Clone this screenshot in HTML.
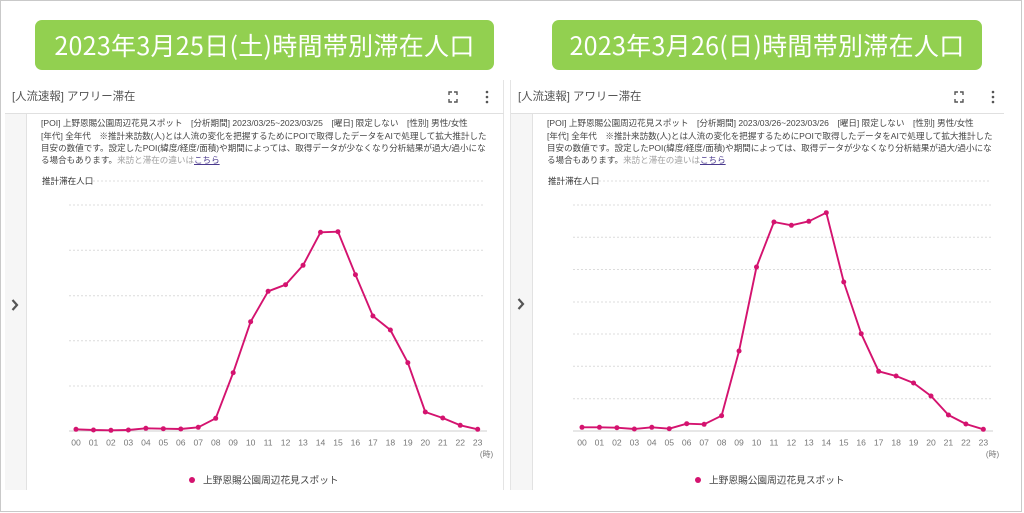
<!DOCTYPE html>
<html><head><meta charset="utf-8">
<style>
*{margin:0;padding:0;box-sizing:border-box}
body{width:1024px;height:513px;background:#fff;position:relative;overflow:hidden;font-family:"Liberation Sans","Noto Sans CJK JP",sans-serif}
.abs{position:absolute}
.frame{left:0;top:0;width:1022px;height:512px;border:1.5px solid #c9c9c9}
.banner{height:50px;top:20px;background:#92d050;border-radius:7px;color:#fff;font-family:"Noto Sans CJK JP","Liberation Sans",sans-serif;font-size:25px;line-height:50px;text-align:center;white-space:nowrap;letter-spacing:0.3px}
.hdr{font-size:11.4px;color:#555;top:89px;white-space:nowrap;line-height:16px}
.side{background:#f6f6f6;border-right:1px solid #e2e2e2}
.txt{font-size:8.55px;line-height:12px;color:#444;white-space:nowrap}
.gray{color:#a0a0a0}
.lnk{color:#4b3a8e;text-decoration:underline}
</style></head><body>
<div class="abs frame"></div>

<div class="abs banner" style="left:35px;width:459px">2023年3月25日(土)時間帯別滞在人口</div>
<div class="abs banner" style="left:552px;width:430px">2023年3月26(日)時間帯別滞在人口</div>

<!-- cards structure -->
<div class="abs" style="left:503px;top:80px;width:1px;height:410px;background:#e4e4e4"></div>
<div class="abs" style="left:510px;top:80px;width:1px;height:410px;background:#e4e4e4"></div>
<div class="abs" style="left:5px;top:113px;width:499px;height:1px;background:#e0e0e0"></div>
<div class="abs" style="left:511px;top:113px;width:493px;height:1px;background:#e0e0e0"></div>
<div class="abs side" style="left:5px;top:114px;width:22px;height:376px"></div>
<div class="abs side" style="left:511px;top:114px;width:22px;height:376px"></div>

<div class="abs hdr" style="left:12px">[人流速報] アワリー滞在</div>
<div class="abs hdr" style="left:518px">[人流速報] アワリー滞在</div>

<div class="abs txt" style="left:41px;top:117px">[POI] 上野恩賜公園周辺花見スポット　[分析期間] 2023/03/25~2023/03/25　[曜日] 限定しない　[性別] 男性/女性</div>
<div class="abs txt" style="left:41px;top:129.5px">[年代] 全年代　※推計来訪数(人)とは人流の変化を把握するためにPOIで取得したデータをAIで処理して拡大推計した</div>
<div class="abs txt" style="left:41px;top:142px">目安の数値です。設定したPOI(緯度/経度/面積)や期間によっては、取得データが少なくなり分析結果が過大/過小にな</div>
<div class="abs txt" style="left:41px;top:154px">る場合もあります。<span class="gray">来訪と滞在の違いは</span><span class="lnk">こちら</span></div>
<div class="abs txt" style="left:42px;top:175px;color:#333">推計滞在人口</div>

<div class="abs txt" style="left:547px;top:117px">[POI] 上野恩賜公園周辺花見スポット　[分析期間] 2023/03/26~2023/03/26　[曜日] 限定しない　[性別] 男性/女性</div>
<div class="abs txt" style="left:547px;top:129.5px">[年代] 全年代　※推計来訪数(人)とは人流の変化を把握するためにPOIで取得したデータをAIで処理して拡大推計した</div>
<div class="abs txt" style="left:547px;top:142px">目安の数値です。設定したPOI(緯度/経度/面積)や期間によっては、取得データが少なくなり分析結果が過大/過小にな</div>
<div class="abs txt" style="left:547px;top:154px">る場合もあります。<span class="gray">来訪と滞在の違いは</span><span class="lnk">こちら</span></div>
<div class="abs txt" style="left:548px;top:175px;color:#333">推計滞在人口</div>

<svg class="abs" style="left:0;top:0" width="1024" height="513" viewBox="0 0 1024 513">
  <!-- icons -->
  <g stroke="#555" stroke-width="1.4" fill="none">
    <path d="M449,95 v-3 h3 M454,92 h3 v3 M457,99 v3 h-3 M452,102 h-3 v-3"/>
    <path d="M955,95 v-3 h3 M960,92 h3 v3 M963,99 v3 h-3 M958,102 h-3 v-3"/>
    <polyline points="12.5,300 17,305 12.5,310" stroke-width="2.2"/>
    <polyline points="518.5,299 523,304 518.5,309" stroke-width="2.2"/>
  </g>
  <g fill="#555">
    <circle cx="487" cy="92" r="1.3"/><circle cx="487" cy="97" r="1.3"/><circle cx="487" cy="102" r="1.3"/>
    <circle cx="993" cy="92" r="1.3"/><circle cx="993" cy="97" r="1.3"/><circle cx="993" cy="102" r="1.3"/>
  </g>

  <!-- LEFT chart grid -->
  <g stroke="#dcdcdc" stroke-width="1" stroke-dasharray="2,2">
    <line x1="93" y1="181" x2="485" y2="181"/>
    <line x1="69" y1="205" x2="485" y2="205"/>
    <line x1="69" y1="250.3" x2="485" y2="250.3"/>
    <line x1="69" y1="295.7" x2="485" y2="295.7"/>
    <line x1="69" y1="340.7" x2="485" y2="340.7"/>
    <line x1="69" y1="386" x2="485" y2="386"/>
  </g>
  <line x1="69" y1="431" x2="487" y2="431" stroke="#cfcfcf" stroke-width="1"/>

  <!-- RIGHT chart grid -->
  <g stroke="#dcdcdc" stroke-width="1" stroke-dasharray="2,2">
    <line x1="599" y1="181" x2="991" y2="181"/>
    <line x1="573" y1="205" x2="991" y2="205"/>
    <line x1="573" y1="237.3" x2="991" y2="237.3"/>
    <line x1="573" y1="269.5" x2="991" y2="269.5"/>
    <line x1="573" y1="302" x2="991" y2="302"/>
    <line x1="573" y1="334" x2="991" y2="334"/>
    <line x1="573" y1="366.3" x2="991" y2="366.3"/>
    <line x1="573" y1="398.7" x2="991" y2="398.7"/>
  </g>
  <line x1="573" y1="431" x2="993" y2="431" stroke="#cfcfcf" stroke-width="1"/>

  <!-- series -->
  <g fill="none" stroke="#d4136f" stroke-width="1.9" stroke-linejoin="round">
    <polyline points="76,429.3 93.47,430 110.93,430.3 128.4,430 145.86,428.3 163.33,428.7 180.79,429 198.26,427.3 215.72,418.3 233.19,372.7 250.65,321.7 268.12,291.3 285.58,284.7 303.05,265.3 320.51,232.3 337.98,231.7 355.44,274.7 372.91,316 390.37,330 407.84,362.7 425.3,412 442.77,418 460.23,425.3 477.7,429.3"/>
    <polyline points="582,427.3 599.45,427.3 616.9,427.7 634.35,429 651.8,427.3 669.25,428.7 686.7,423.7 704.15,424.3 721.6,415.7 739.05,351 756.5,267 773.95,222 791.4,225.3 808.85,221.3 826.3,212.7 843.75,282 861.2,333.7 878.65,371.3 896.1,376 913.55,383 931,396 948.45,415 965.9,424 983.35,429.3"/>
  </g>
  <g fill="#d4136f">
    <circle cx="76" cy="429.3" r="2.5"/><circle cx="93.47" cy="430" r="2.5"/><circle cx="110.93" cy="430.3" r="2.5"/><circle cx="128.4" cy="430" r="2.5"/><circle cx="145.86" cy="428.3" r="2.5"/><circle cx="163.33" cy="428.7" r="2.5"/><circle cx="180.79" cy="429" r="2.5"/><circle cx="198.26" cy="427.3" r="2.5"/><circle cx="215.72" cy="418.3" r="2.5"/><circle cx="233.19" cy="372.7" r="2.5"/><circle cx="250.65" cy="321.7" r="2.5"/><circle cx="268.12" cy="291.3" r="2.5"/><circle cx="285.58" cy="284.7" r="2.5"/><circle cx="303.05" cy="265.3" r="2.5"/><circle cx="320.51" cy="232.3" r="2.5"/><circle cx="337.98" cy="231.7" r="2.5"/><circle cx="355.44" cy="274.7" r="2.5"/><circle cx="372.91" cy="316" r="2.5"/><circle cx="390.37" cy="330" r="2.5"/><circle cx="407.84" cy="362.7" r="2.5"/><circle cx="425.3" cy="412" r="2.5"/><circle cx="442.77" cy="418" r="2.5"/><circle cx="460.23" cy="425.3" r="2.5"/><circle cx="477.7" cy="429.3" r="2.5"/>
    <circle cx="582" cy="427.3" r="2.5"/><circle cx="599.45" cy="427.3" r="2.5"/><circle cx="616.9" cy="427.7" r="2.5"/><circle cx="634.35" cy="429" r="2.5"/><circle cx="651.8" cy="427.3" r="2.5"/><circle cx="669.25" cy="428.7" r="2.5"/><circle cx="686.7" cy="423.7" r="2.5"/><circle cx="704.15" cy="424.3" r="2.5"/><circle cx="721.6" cy="415.7" r="2.5"/><circle cx="739.05" cy="351" r="2.5"/><circle cx="756.5" cy="267" r="2.5"/><circle cx="773.95" cy="222" r="2.5"/><circle cx="791.4" cy="225.3" r="2.5"/><circle cx="808.85" cy="221.3" r="2.5"/><circle cx="826.3" cy="212.7" r="2.5"/><circle cx="843.75" cy="282" r="2.5"/><circle cx="861.2" cy="333.7" r="2.5"/><circle cx="878.65" cy="371.3" r="2.5"/><circle cx="896.1" cy="376" r="2.5"/><circle cx="913.55" cy="383" r="2.5"/><circle cx="931" cy="396" r="2.5"/><circle cx="948.45" cy="415" r="2.5"/><circle cx="965.9" cy="424" r="2.5"/><circle cx="983.35" cy="429.3" r="2.5"/>
  </g>

  <!-- x tick labels -->
  <g font-family="Liberation Sans, sans-serif" font-size="8.6" fill="#777" text-anchor="middle">
    <text x="76" y="445.5">00</text><text x="93.47" y="445.5">01</text><text x="110.93" y="445.5">02</text><text x="128.4" y="445.5">03</text><text x="145.86" y="445.5">04</text><text x="163.33" y="445.5">05</text><text x="180.79" y="445.5">06</text><text x="198.26" y="445.5">07</text><text x="215.72" y="445.5">08</text><text x="233.19" y="445.5">09</text><text x="250.65" y="445.5">10</text><text x="268.12" y="445.5">11</text><text x="285.58" y="445.5">12</text><text x="303.05" y="445.5">13</text><text x="320.51" y="445.5">14</text><text x="337.98" y="445.5">15</text><text x="355.44" y="445.5">16</text><text x="372.91" y="445.5">17</text><text x="390.37" y="445.5">18</text><text x="407.84" y="445.5">19</text><text x="425.3" y="445.5">20</text><text x="442.77" y="445.5">21</text><text x="460.23" y="445.5">22</text><text x="477.7" y="445.5">23</text>
    <text x="582" y="445.5">00</text><text x="599.45" y="445.5">01</text><text x="616.9" y="445.5">02</text><text x="634.35" y="445.5">03</text><text x="651.8" y="445.5">04</text><text x="669.25" y="445.5">05</text><text x="686.7" y="445.5">06</text><text x="704.15" y="445.5">07</text><text x="721.6" y="445.5">08</text><text x="739.05" y="445.5">09</text><text x="756.5" y="445.5">10</text><text x="773.95" y="445.5">11</text><text x="791.4" y="445.5">12</text><text x="808.85" y="445.5">13</text><text x="826.3" y="445.5">14</text><text x="843.75" y="445.5">15</text><text x="861.2" y="445.5">16</text><text x="878.65" y="445.5">17</text><text x="896.1" y="445.5">18</text><text x="913.55" y="445.5">19</text><text x="931" y="445.5">20</text><text x="948.45" y="445.5">21</text><text x="965.9" y="445.5">22</text><text x="983.35" y="445.5">23</text>
  </g>
  <g font-family="Liberation Sans, Noto Sans CJK JP, sans-serif" font-size="8" fill="#777" text-anchor="middle">
    <text x="486.5" y="457">(時)</text>
    <text x="992.5" y="457">(時)</text>
  </g>

  <!-- legend -->
  <circle cx="192" cy="480" r="3" fill="#d4136f"/>
  <circle cx="698" cy="480" r="3" fill="#d4136f"/>
  <g font-family="Liberation Sans, Noto Sans CJK JP, sans-serif" font-size="9.7" fill="#444">
    <text x="203" y="483.5">上野恩賜公園周辺花見スポット</text>
    <text x="709" y="483.5">上野恩賜公園周辺花見スポット</text>
  </g>
</svg>
</body></html>
